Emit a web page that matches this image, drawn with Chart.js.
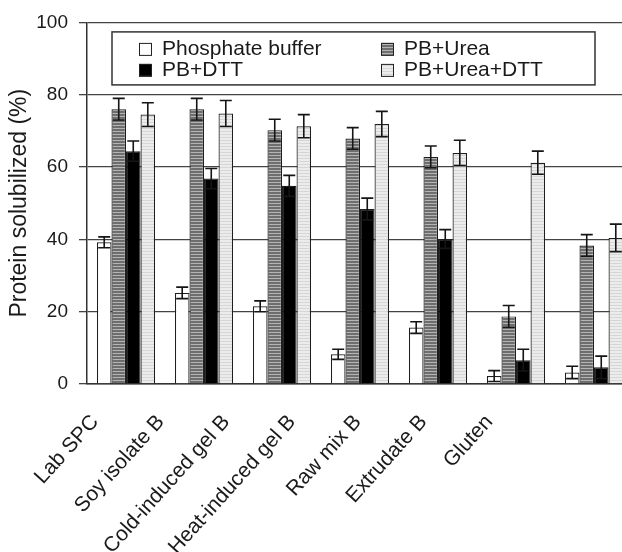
<!DOCTYPE html>
<html>
<head>
<meta charset="utf-8">
<script src="https://cdn.jsdelivr.net/npm/chart.js@4/dist/chart.umd.min.js"></script>
<style>
    html, body { margin: 0; padding: 0; overflow: hidden; background: #fff; }
    #wrap { position: relative; width: 650px; height: 552px; }
</style>
</head>
<body>
<div id="wrap"><canvas id="solubilityChart"></canvas></div>
<script>
// Protein solubilized (%) per sample and extraction buffer
const categories = ['Lab SPC', 'Soy isolate B', 'Cold-induced gel B', 'Heat-induced gel B', 'Raw mix B', 'Extrudate B', 'Gluten'];
const seriesNames = ['Phosphate buffer', 'PB+Urea', 'PB+DTT', 'PB+Urea+DTT'];
const pbValues = [39.2, 25.2, 21.5, 8.2, 15.6, 2.2, 3.2];
const pbErrors = [1.5, 1.6, 1.5, 1.4, 1.6, 1.5, 1.7];
const ureaValues = [76.0, 76.0, 70.2, 67.9, 62.8, 18.7, 38.3];
const ureaErrors = [3.0, 3.0, 3.0, 3.0, 3.0, 3.0, 3.0];
const dttValues = [64.4, 56.8, 54.8, 48.4, 40.1, 6.6, 4.6];
const dttErrors = [2.8, 2.8, 2.9, 3.0, 2.6, 3.0, 3.1];
const ureaDttValues = [74.5, 74.8, 71.3, 71.9, 63.9, 61.2, 40.4];
const ureaDttErrors = [3.3, 3.6, 3.2, 3.5, 3.5, 3.2, 3.8];
const yTicks = [0, 20, 40, 60, 80, 100];

document.addEventListener('DOMContentLoaded', () => {
    const font = '"Liberation Sans", Arial, Helvetica, sans-serif';
    const ink = '#1a1a1a';

    // striped fills for the urea bars
    const stripes = (base, line) => {
        const c = document.createElement('canvas');
        c.width = 4;
        c.height = 3;
        const g = c.getContext('2d');
        g.fillStyle = base;
        g.fillRect(0, 0, 4, 3);
        g.fillStyle = line;
        g.fillRect(0, 2, 4, 1);
        return g.createPattern(c, 'repeat');
    };
    const fills = ['#ffffff', stripes('#6e6e6e', '#b4b4b4'), '#000000', stripes('#ececec', '#d6d6d6')];
    const values = [pbValues, ureaValues, dttValues, ureaDttValues];
    const errors = [pbErrors, ureaErrors, dttErrors, ureaDttErrors];

    // Error bars drawn on top of the bars
    const errorBars = {
        id: 'errorBars',
        afterDatasetsDraw(chart) {
            const ctx = chart.ctx;
            const y = chart.scales.y;
            ctx.save();
            ctx.strokeStyle = '#151515';
            ctx.lineWidth = 1.6;
            chart.data.datasets.forEach((ds, i) => {
                chart.getDatasetMeta(i).data.forEach((bar, j) => {
                    const v = ds.data[j];
                    const e = ds.errors[j];
                    const top = y.getPixelForValue(v + e);
                    const bottom = y.getPixelForValue(v - e);
                    ctx.beginPath();
                    ctx.moveTo(bar.x, top);
                    ctx.lineTo(bar.x, bottom);
                    ctx.moveTo(bar.x - 6, top);
                    ctx.lineTo(bar.x + 6, top);
                    ctx.moveTo(bar.x - 6, bottom);
                    ctx.lineTo(bar.x + 6, bottom);
                    ctx.stroke();
                });
            });
            ctx.restore();
        }
    };

    // Boxed two-column legend inside the plot
    const boxedLegend = {
        id: 'boxedLegend',
        afterDraw(chart) {
            const ctx = chart.ctx;
            const area = chart.chartArea;
            const x0 = area.left + 25;
            const y0 = area.top + 9.5;
            ctx.save();
            ctx.fillStyle = '#fff';
            ctx.fillRect(x0, y0, 483, 53);
            ctx.strokeStyle = '#333';
            ctx.lineWidth = 1.5;
            ctx.strokeRect(x0, y0, 483, 53);
            ctx.font = '21px ' + font;
            ctx.textBaseline = 'middle';
            chart.data.datasets.forEach((ds, i) => {
                const sx = x0 + (i % 2 === 0 ? 27 : 269);
                const sy = y0 + (i < 2 ? 11 : 32);
                ctx.fillStyle = ds.backgroundColor;
                ctx.fillRect(sx, sy, 12, 12);
                ctx.strokeStyle = '#222';
                ctx.lineWidth = 1;
                ctx.strokeRect(sx + 0.5, sy + 0.5, 12, 12);
                ctx.fillStyle = ink;
                ctx.fillText(ds.label, sx + 23, sy + 6.5);
            });
            ctx.restore();
        }
    };

    // label axis range: category labels sit a bit tighter than the bar groups
    const labelMin = -0.122;
    const labelMax = 8.189;

    const order = [0, 1, 2, 3];
    const ctx = document.getElementById('solubilityChart').getContext('2d');
    new Chart(ctx, {
        type: 'bar',
        data: {
            labels: categories,
            datasets: order.map(i => ({
                label: seriesNames[i],
                data: values[i],
                errors: errors[i],
                backgroundColor: fills[i],
                borderColor: '#1e1e1e',
                borderWidth: 1.2,
                categoryPercentage: 0.745,
                barPercentage: 1.0
            }))
        },
        options: {
            responsive: true,
            maintainAspectRatio: false,
            animation: false,
            layout: {
                padding: { top: 20, right: 17, left: 0, bottom: 0 }
            },
            plugins: {
                legend: { display: false },
                tooltip: { enabled: false }
            },
            scales: {
                x: {
                    display: false
                },
                xl: {
                    type: 'linear',
                    position: 'bottom',
                    offset: false,
                    bounds: 'data',
                    min: labelMin,
                    max: labelMax,
                    afterBuildTicks: (scale) => {
                        scale.min = labelMin;
                        scale.max = labelMax;
                        scale.ticks = categories.map((c, i) => ({ value: i }));
                    },
                    afterFit: (scale) => {
                        scale.height = 168;
                    },
                    grid: { display: false, offset: false },
                    border: { display: true, color: '#333', width: 1.5 },
                    ticks: {
                        autoSkip: false,
                        minRotation: 48,
                        maxRotation: 48,
                        padding: 18,
                        color: ink,
                        font: { family: font, size: 21 },
                        callback: (v) => categories[v] ?? ''
                    }
                },
                y: {
                    min: 0,
                    max: 100,
                    afterBuildTicks: (scale) => {
                        scale.ticks = yTicks.map(v => ({ value: v }));
                    },
                    afterFit: (scale) => {
                        scale.width = 87;
                    },
                    grid: {
                        color: '#444',
                        lineWidth: 1.3,
                        tickLength: 8
                    },
                    border: { display: true, color: '#333', width: 1.5 },
                    ticks: {
                        padding: 11,
                        color: ink,
                        font: { family: font, size: 19 }
                    },
                    title: {
                        display: true,
                        text: 'Protein solubilized (%)',
                        color: ink,
                        padding: { top: 6, bottom: 0 },
                        font: { family: font, size: 23 }
                    }
                }
            }
        },
        plugins: [errorBars, boxedLegend]
    });
});
</script>
</body>
</html>
